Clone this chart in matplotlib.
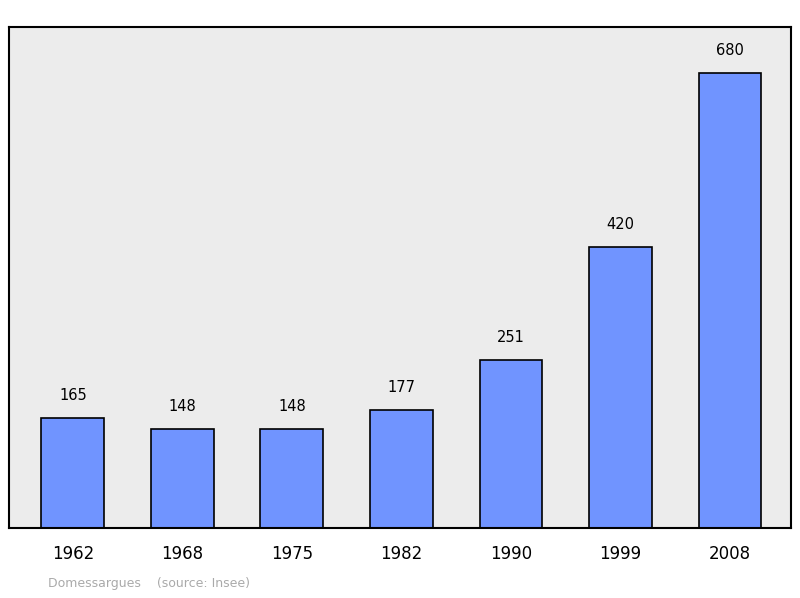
import matplotlib.pyplot as plt

years = ["1962", "1968", "1975", "1982", "1990", "1999", "2008"]
population = [165, 148, 148, 177, 251, 420, 680]

fig = plt.figure(figsize=(8, 5.98), dpi=100)
ax = fig.add_axes([9/800, 1 - 528/598, 782/800, 501/598])
ax.set_facecolor("#ececec")

x = list(range(len(years)))
ax.bar(x, population, width=0.575, color="#7094ff", edgecolor="black", linewidth=1.2)
for xi, v in zip(x, population):
    ax.text(xi, v + 22, str(v), ha="center", va="bottom", fontsize=10.5)

ax.set_xlim(-0.584, 6.557)
ax.set_ylim(0, 749)
ax.set_yticks([])
ax.set_xticks(x)
ax.set_xticklabels(years, fontsize=12)
ax.tick_params(axis="x", length=0, pad=12)
for s in ax.spines.values():
    s.set_linewidth(1.5)

fig.text(48/800, 1 - 584/598, "Domessargues    (source: Insee)", color="#aaaaaa",
         fontsize=9, va="center")

fig.savefig("out.png", dpi=100)
